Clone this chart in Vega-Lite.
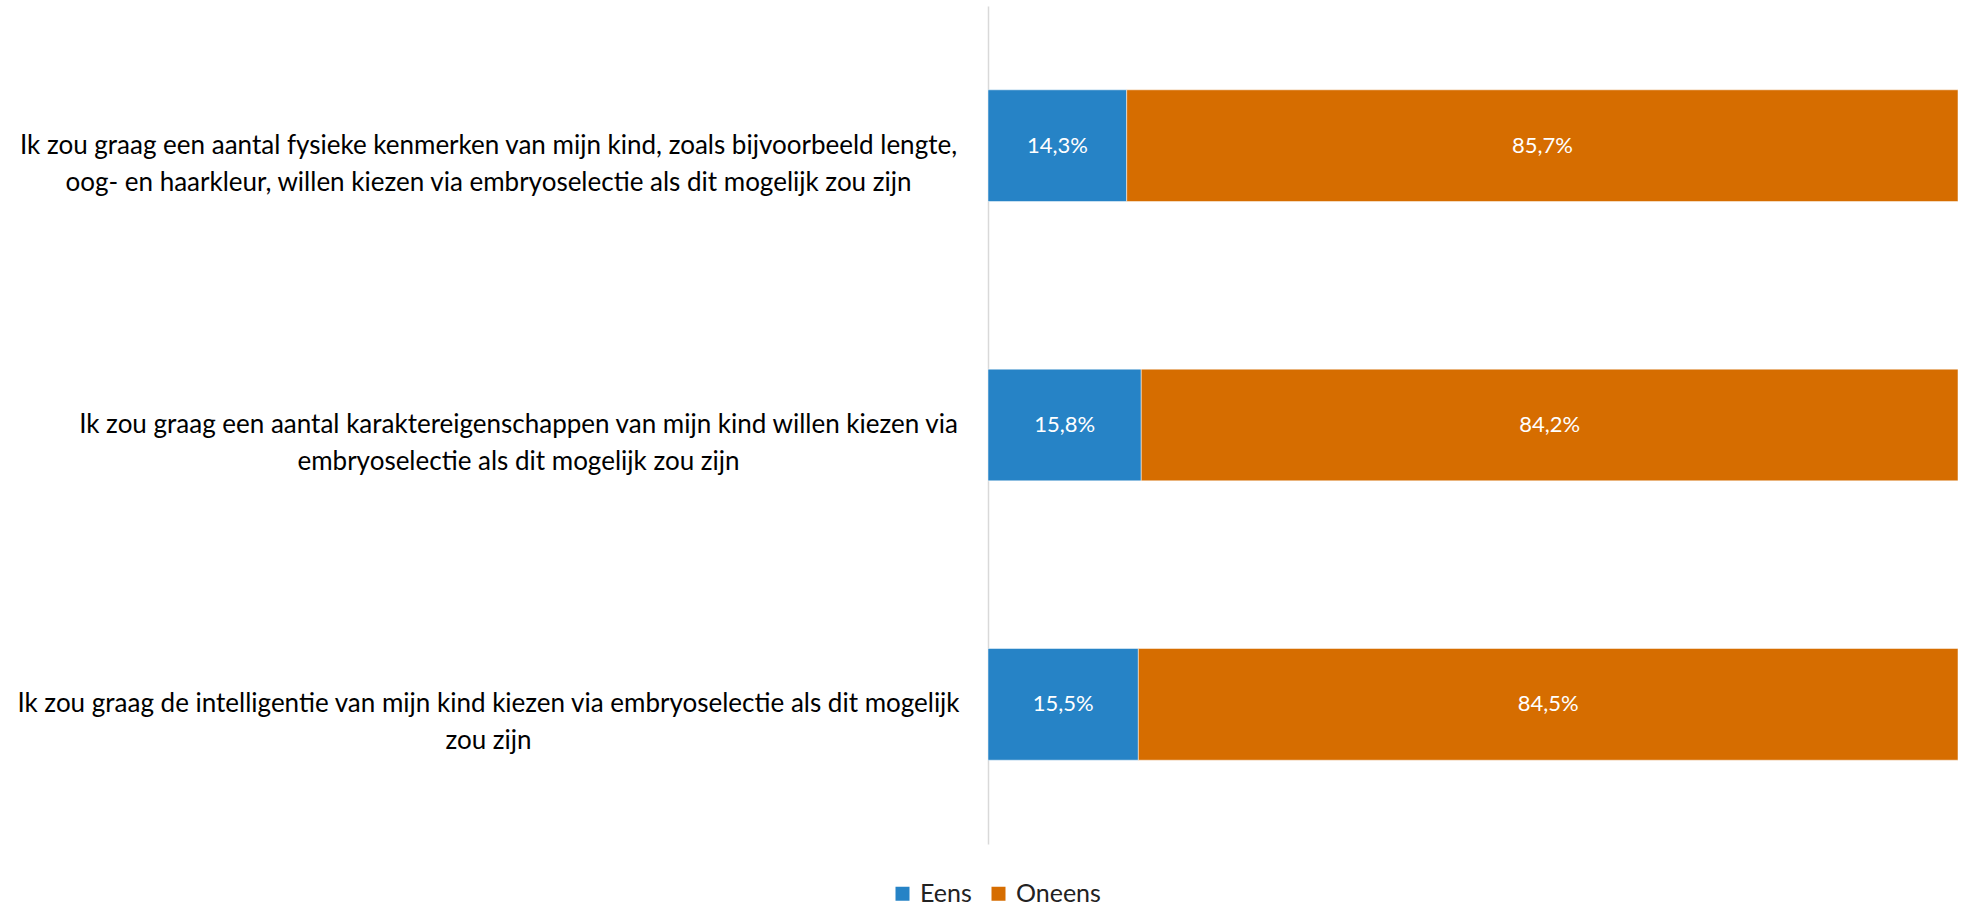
{
  "$schema": "https://vega.github.io/schema/vega-lite/v6.json",
  "autosize": {"type": "none"},
  "padding": {"left": 988, "top": 6, "right": 4, "bottom": 63},
  "width": 970,
  "height": 838,
  "background": "white",
  "config": {
    "view": {"stroke": null},
    "locale": {"number": {"decimal": ",", "thousands": ".", "grouping": [3], "currency": ["€", ""]}}
  },
  "data": {
    "values": [
      {"q": "Ik zou graag een aantal fysieke kenmerken van mijn kind, zoals bijvoorbeeld lengte,|oog- en haarkleur, willen kiezen via embryoselectie als dit mogelijk zou zijn", "cat": "Eens", "value": 0.143},
      {"q": "Ik zou graag een aantal fysieke kenmerken van mijn kind, zoals bijvoorbeeld lengte,|oog- en haarkleur, willen kiezen via embryoselectie als dit mogelijk zou zijn", "cat": "Oneens", "value": 0.857},
      {"q": "Ik zou graag een aantal karaktereigenschappen van mijn kind willen kiezen via|embryoselectie als dit mogelijk zou zijn", "cat": "Eens", "value": 0.158},
      {"q": "Ik zou graag een aantal karaktereigenschappen van mijn kind willen kiezen via|embryoselectie als dit mogelijk zou zijn", "cat": "Oneens", "value": 0.842},
      {"q": "Ik zou graag de intelligentie van mijn kind kiezen via embryoselectie als dit mogelijk|zou zijn", "cat": "Eens", "value": 0.155},
      {"q": "Ik zou graag de intelligentie van mijn kind kiezen via embryoselectie als dit mogelijk|zou zijn", "cat": "Oneens", "value": 0.845}
    ]
  },
  "transform": [
    {"stack": "value", "groupby": ["q"], "sort": [{"field": "cat", "order": "ascending"}], "as": ["v0", "v1"]},
    {"calculate": "(datum.v0 + datum.v1) / 2", "as": "mid"}
  ],
  "encoding": {
    "y": {
      "field": "q",
      "type": "nominal",
      "sort": null,
      "title": null,
      "scale": {"paddingInner": 0.6, "paddingOuter": 0.3},
      "axis": {
        "domain": true,
        "domainColor": "#d9d9d9",
        "domainWidth": 1.5,
        "ticks": false,
        "tickSize": 0,
        "labelExpr": "split(datum.label, '|')",
        "labelAlign": "center",
        "labelBaseline": "middle",
        "labelPadding": {"condition": {"test": "indexof(datum.value, 'karakter') >= 0", "value": 470}, "value": 500},
        "labelLimit": 0,
        "labelFont": "Lato",
        "labelFontSize": 26,
        "labelLineHeight": 37,
        "labelColor": "#000000",
        "grid": false
      }
    }
  },
  "layer": [
    {
      "mark": {"type": "bar", "stroke": "white", "strokeWidth": 0.5},
      "encoding": {
        "x": {"field": "v0", "type": "quantitative", "scale": {"domain": [0, 1], "nice": false}, "axis": null},
        "x2": {"field": "v1"},
        "color": {
          "field": "cat",
          "type": "nominal",
          "scale": {"domain": ["Eens", "Oneens"], "range": ["#2683c6", "#d66d00"]},
          "legend": {
            "title": null,
            "orient": "none",
            "direction": "horizontal",
            "legendX": -98,
            "legendY": 875,
            "symbolType": "square",
            "symbolSize": 196,
            "symbolStrokeWidth": 0,
            "labelFont": "Lato",
            "labelFontSize": 25,
            "labelColor": "#222222",
            "labelOffset": 5,
            "columnPadding": 14
          }
        }
      }
    },
    {
      "mark": {"type": "text", "color": "white", "font": "Lato", "fontSize": 22, "baseline": "middle", "align": "center"},
      "encoding": {
        "x": {"field": "mid", "type": "quantitative", "scale": {"domain": [0, 1], "nice": false}},
        "text": {"field": "value", "type": "quantitative", "format": ".1%"}
      }
    }
  ]
}
